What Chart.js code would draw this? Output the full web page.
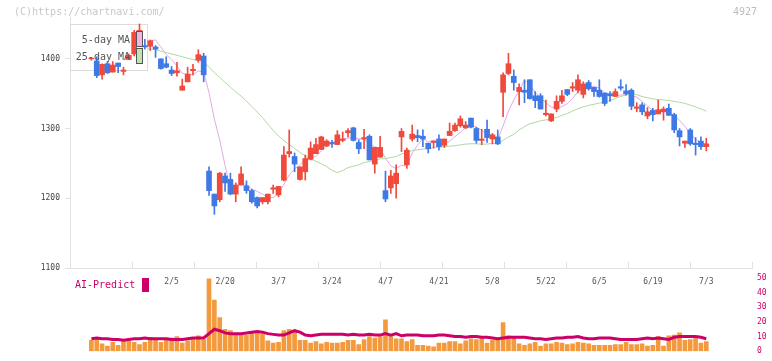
<!DOCTYPE html>
<html><head><meta charset="utf-8">
<script src="https://cdn.jsdelivr.net/npm/chart.js@4.4.0/dist/chart.umd.min.js"></script>
<style>
html,body{margin:0;padding:0;background:#fff;}
#wrap{position:relative;width:772px;height:361px;overflow:hidden;background:#fff;}
canvas{position:absolute;left:0;top:0;}
.t{position:absolute;font:10px "DejaVu Sans Mono",monospace;line-height:12px;white-space:nowrap;}
</style></head><body>
<div id="wrap">
<canvas id="main" width="772" height="361"></canvas>
<canvas id="vol" width="772" height="361"></canvas>
<div class="t" style="left:14px;top:6px;color:#c8c8c8">(C)https://chartnavi.com/</div>
<div class="t" style="left:733px;top:6px;color:#bdbdbd">4927</div>
</div>
<script>
// ---- data (trading days 1/15 .. 7/3) ----
const tickLabels = ['2/5','2/20','3/7','3/24','4/7','4/21','5/8','5/22','6/5','6/19','7/3'];
const tickIdx    = [15,25,35,45,55,65,75,85,95,105,115];
const priceTicks = [1100,1200,1300,1400];

const opens = [1400,1397,1377,1393,1381,1394,1382,1399,1407,1430,1419,1418,1417,1400,1393,1384,1380,1355,1367,1383,
1398,1404,1239,1206,1198,1232,1227,1206,1219,1218,1211,1201,1195,1195,1213,1205,1226,1264,1260,1227,
1238,1256,1264,1270,1275,1280,1277,1283,1294,1301,1280,1285,1289,1249,1259,1211,1215,1221,1288,1248,
1285,1290,1289,1279,1280,1285,1276,1290,1297,1304,1301,1315,1300,1283,1299,1285,1288,1352,1379,1375,
1353,1355,1370,1347,1347,1320,1311,1328,1339,1356,1358,1355,1349,1366,1359,1355,1351,1350,1346,1360,
1354,1355,1329,1334,1318,1326,1321,1324,1329,1320,1297,1279,1298,1279,1282,1274];
const highs = [1402,1403,1393,1396,1396,1394,1388,1407,1441,1450,1428,1427,1419,1400,1403,1389,1395,1371,1388,1392,
1413,1408,1245,1206,1237,1236,1236,1222,1245,1225,1213,1202,1201,1206,1219,1217,1274,1298,1265,1245,
1262,1281,1286,1289,1284,1283,1297,1295,1300,1302,1284,1299,1291,1273,1289,1239,1240,1248,1300,1272,
1305,1298,1298,1279,1282,1291,1285,1308,1308,1318,1310,1315,1302,1299,1312,1293,1298,1380,1408,1384,
1364,1370,1370,1353,1350,1341,1321,1347,1355,1356,1366,1377,1367,1369,1359,1370,1351,1353,1357,1370,
1363,1357,1337,1337,1330,1329,1341,1331,1335,1322,1300,1282,1300,1287,1288,1286];
const lows = [1398,1373,1371,1379,1381,1380,1377,1399,1404,1425,1414,1412,1402,1385,1387,1376,1375,1355,1367,1377,
1395,1367,1204,1177,1195,1210,1205,1195,1219,1207,1193,1186,1192,1192,1207,1202,1225,1259,1238,1226,
1226,1255,1264,1270,1274,1273,1277,1281,1288,1282,1264,1271,1255,1236,1259,1195,1207,1200,1267,1243,
1282,1281,1274,1265,1272,1269,1273,1290,1296,1302,1300,1301,1279,1277,1280,1278,1277,1317,1377,1355,
1334,1337,1342,1330,1328,1318,1310,1324,1336,1347,1353,1351,1344,1355,1346,1345,1333,1339,1346,1355,
1348,1327,1324,1320,1314,1311,1321,1312,1319,1294,1275,1273,1276,1262,1270,1268];
const closes = [1401,1376,1392,1380,1391,1389,1384,1405,1438,1441,1417,1426,1414,1386,1388,1379,1383,1361,1378,1385,
1406,1377,1211,1189,1236,1222,1206,1219,1235,1211,1195,1189,1201,1206,1215,1217,1262,1267,1249,1245,
1257,1272,1277,1288,1282,1278,1291,1285,1297,1283,1271,1287,1255,1273,1273,1199,1232,1236,1296,1269,
1292,1287,1285,1271,1282,1274,1285,1296,1305,1314,1305,1302,1283,1285,1287,1291,1278,1377,1393,1366,
1359,1352,1343,1340,1328,1322,1321,1339,1347,1349,1360,1370,1364,1357,1353,1346,1336,1347,1353,1358,
1350,1332,1331,1324,1324,1320,1327,1328,1319,1298,1288,1282,1278,1277,1274,1278];

const ma5 = [1392,1390,1389,1388,1388,1385.6,1387.2,1389.8,1401.4,1411.4,
1417,1425.4,1427.2,1416.8,1406.2,1398.6,1390,1379.4,1377.8,1377.2,
1382.6,1381.4,1351.4,1313.6,1283.8,1247,1212.8,1214.4,1223.6,1218.6,
1213.2,1209.8,1206.2,1200.4,1201.2,1205.6,1220.2,1233.4,1242,1248,
1256,1258,1260,1267.8,1275.2,1279.4,1283.2,1284.8,1286.6,1286.8,
1285.4,1284.6,1278.6,1273.8,1271.8,1257.4,1246.4,1242.6,1247.2,1246.4,
1265,1276,1285.8,1280.8,1283.4,1279.8,1279.4,1281.6,1288.4,1294.8,
1301,1304.4,1301.8,1297.8,1292.4,1289.6,1284.8,1303.6,1325.2,1341,
1354.6,1369.4,1362.6,1352,1344.4,1337,1330.8,1330,1331.4,1335.6,
1343.2,1353,1358,1360,1360.8,1358,1351.2,1347.8,1347,1348,
1348.8,1348,1344.8,1339,1332.2,1326.2,1325.2,1324.6,1323.6,1318.4,
1312,1303,1293,1284.6,1279.8,1277.8];
const ma25 = [1425,1424,1423,1422,1421,1420,1419,1418,1417,1416,
1415,1414,1413,1411,1409,1407,1405,1403,1401,1399,
1398,1396,1388,1380,1373.3,1366.2,1359.4,1352.4,1346.6,1339.4,
1331.7,1323.9,1315.7,1306.4,1297.4,1289.4,1282.8,1277,1271.5,1265.8,
1260.9,1256.4,1253.1,1249.5,1245.4,1240.2,1236.8,1239.8,1244.1,1246,
1247.9,1251.2,1252.6,1254.1,1256.6,1256.8,1258.5,1259.9,1263.5,1265.6,
1268.6,1269.6,1270.4,1271.2,1272.7,1273.4,1273.9,1274.7,1275.4,1276.6,
1277.7,1278.2,1278.1,1277.6,1277.8,1278.6,1278.2,1283.1,1287.9,1291.6,
1298,1302.8,1307.1,1308.8,1311.2,1312.4,1313.8,1315.9,1319,1321.6,
1325.1,1328.5,1331.2,1333.3,1334.8,1336.5,1337.8,1340.4,1343.1,1346,
1348.3,1350.5,1348.6,1345.9,1344.2,1342.6,1341.6,1341,1340.2,1339,
1337.6,1336.1,1333.6,1331.1,1328.1,1324.8];

const volumes = [7.5,8.5,5,3.5,6,4,7,7,6,4.5,6,9.5,8.5,6,7.5,9,10,5.5,7,8.5,
10.5,8,49.5,35,23,15,14,12,11,11,12.5,13,11.5,7,5.5,6,14,15,13,7.5,
7.5,5.5,6.5,5,6,5.5,5.5,6,7.5,7.5,4.5,8,10,9,10,21.5,10,8.5,8.5,6.5,
8,4,4,3.5,3,5.5,5.5,6.5,6.5,5,7,8.5,8,9,5.5,7.5,8,19.5,10.5,10,
5,4,5,6,3.5,5,5,6,5.5,4.5,5,6,5.5,5,4,4,4,4,4.5,4.5,
6,4.5,4.5,5,3.5,4,10,3.5,10.5,11,12.5,7.5,8,9,5.5,6.5];
const aiPredict = [8.5,9,8.5,8.5,8,8,7.5,8,8.5,8.5,9,8.5,8.5,8.5,8.5,8,8,8,8.5,9,
9,9,12,15,14,12.5,12,12,12,12.5,13,13.5,13,12,11.5,11,11,12.5,14,13,
11,10.5,11,11.5,11.5,11.5,11.5,11.5,11,11.5,11,11,11.5,11,11,12,11,12,10.5,11,
11,11,10.5,10.5,10.5,11,11,10.5,10,10,9.5,10,10,9.5,9.5,9,8.5,9,9.5,9.5,
9.5,9.5,9,8.5,8.5,8,8.5,9,9,9.5,9.5,10,9,8.5,8.5,9,9,9,8.5,8,
8,8,8,8.5,9,8.5,9,8.5,8,9.5,10,10,10,10,9.5,8.5];

// ---- layout of x (index) scale ----
const X_MIN = -4, X_MAX = 123.55;
const UP = '#ef4a3c', DOWN = '#3f79e6';
const candleColor = ctx => {
  const i = ctx.dataIndex;
  return closes[i] >= opens[i] ? UP : DOWN;
};

Chart.defaults.font.family = '"DejaVu Sans Mono", monospace';
Chart.defaults.animation = false;

const legendPlugin = {
  id: 'maLegend',
  beforeDatasetDraw(chart, args) {
    if (args.index !== 2) return;
    const c = chart.ctx;
    c.save();
    c.fillStyle = '#fff';
    c.fillRect(70.5, 24.5, 77, 46);
    c.strokeStyle = '#dcdcdc';
    c.lineWidth = 1;
    c.strokeRect(70.5, 24.5, 77, 46);
    c.restore();
  },
  afterDatasetsDraw(chart) {
    const c = chart.ctx;
    c.save();
    c.font = '10px "DejaVu Sans Mono"';
    c.fillStyle = '#555';
    c.textAlign = 'right';
    c.textBaseline = 'middle';
    c.fillText('5-day MA', 130, 40);
    c.fillText('25-day MA', 130, 57);
    c.lineWidth = 1;
    c.strokeStyle = '#555';
    c.fillStyle = '#f2b6e6';
    c.fillRect(136.5, 31.5, 6, 15);
    c.strokeRect(136.5, 31.5, 6, 15);
    c.fillStyle = '#bfe3b4';
    c.fillRect(136.5, 48.5, 6, 15);
    c.strokeRect(136.5, 48.5, 6, 15);
    c.restore();
  }
};

new Chart(document.getElementById('main'), {
  type: 'bar',
  data: {
    datasets: [
      { type: 'line', label: '5-day MA', data: ma5.map((v, i) => ({ x: i, y: v })),
        borderColor: '#e4a8e4', borderWidth: 1, pointRadius: 0, tension: 0, order: 3 },
      { type: 'line', label: '25-day MA', data: ma25.map((v, i) => ({ x: i, y: v })),
        borderColor: '#b0d8a0', borderWidth: 1, pointRadius: 0, tension: 0, order: 2 },
      { type: 'bar', label: 'range', data: lows.map((l, i) => ({ x: i, y: [l, highs[i]] })),
        backgroundColor: candleColor, barThickness: 1, grouped: false, order: 1 },
      { type: 'bar', label: 'body', data: opens.map((o, i) => ({ x: i, y: [o, closes[i]] })),
        backgroundColor: candleColor, barThickness: 5, grouped: false, order: 0 }
    ]
  },
  options: {
    responsive: false,
    devicePixelRatio: 1,
    layout: { padding: { top: 17, right: 20, bottom: 0, left: 0 } },
    plugins: { legend: { display: false }, tooltip: { enabled: false } },
    scales: {
      x: {
        type: 'linear', min: X_MIN, max: X_MAX, offset: false, weight: 0,
        afterBuildTicks: s => { s.ticks = Array.from({ length: 12 }, (_, k) => ({ value: X_MIN + k * (X_MAX - X_MIN) / 11 })); },
        ticks: { display: false },
        grid: { drawOnChartArea: false, offset: false, tickLength: -6, color: '#e2e2e2' },
        border: { color: '#e2e2e2' },
        afterFit: s => { s.height = 0; }
      },
      xl: {
        type: 'linear', position: 'bottom', min: X_MIN, max: X_MAX, offset: false, weight: 1,
        afterBuildTicks: s => { s.ticks = tickIdx.map(v => ({ value: v })); },
        ticks: { autoSkip: false, maxRotation: 0, padding: 9, color: '#555', font: { size: 8 },
          callback: v => { const k = tickIdx.indexOf(v); return k >= 0 ? tickLabels[k] : ''; } },
        grid: { display: false, drawTicks: false },
        border: { display: false },
        afterFit: s => { s.height = 93; }
      },
      y: {
        min: 1100, max: 1460,
        afterBuildTicks: s => { s.ticks = priceTicks.map(v => ({ value: v })); },
        ticks: { color: '#444', font: { size: 8 }, padding: 5, callback: v => String(v) },
        grid: { drawOnChartArea: false, tickLength: 5, color: '#e2e2e2' },
        border: { color: '#e2e2e2' },
        afterFit: s => { s.width = 70; }
      }
    }
  },
  plugins: [legendPlugin]
});

const aiLegend = {
  id: 'aiLegend',
  afterDraw(chart) {
    const c = chart.ctx;
    c.save();
    c.font = '10px "DejaVu Sans Mono"';
    c.fillStyle = '#cc0066';
    c.textAlign = 'left';
    c.textBaseline = 'middle';
    c.fillText('AI-Predict', 75, 285);
    c.fillRect(142, 278, 7, 14);
    c.restore();
  }
};

new Chart(document.getElementById('vol'), {
  type: 'bar',
  data: {
    datasets: [
      { type: 'line', label: 'AI-Predict', data: aiPredict.map((v, i) => ({ x: i, y: v })),
        borderColor: '#cc0066', borderWidth: 3, pointRadius: 0, tension: 0, order: 0 },
      { type: 'bar', label: 'volume', data: volumes.map((v, i) => ({ x: i, y: v })),
        backgroundColor: '#f39a3e', barThickness: 4, grouped: false, order: 1 }
    ]
  },
  options: {
    responsive: false,
    devicePixelRatio: 1,
    layout: { padding: { top: 278, right: 0, bottom: 3, left: 70 } },
    plugins: { legend: { display: false }, tooltip: { enabled: false } },
    scales: {
      x: { type: 'linear', min: X_MIN, max: X_MAX, offset: false, display: false },
      y: {
        position: 'right', min: 0, max: 50,
        ticks: { stepSize: 10, color: '#cc0066', font: { size: 8 }, padding: 5 },
        grid: { display: false, drawTicks: false },
        border: { display: false },
        afterFit: s => { s.width = 20; }
      }
    }
  },
  plugins: [aiLegend]
});
</script>
</body></html>
